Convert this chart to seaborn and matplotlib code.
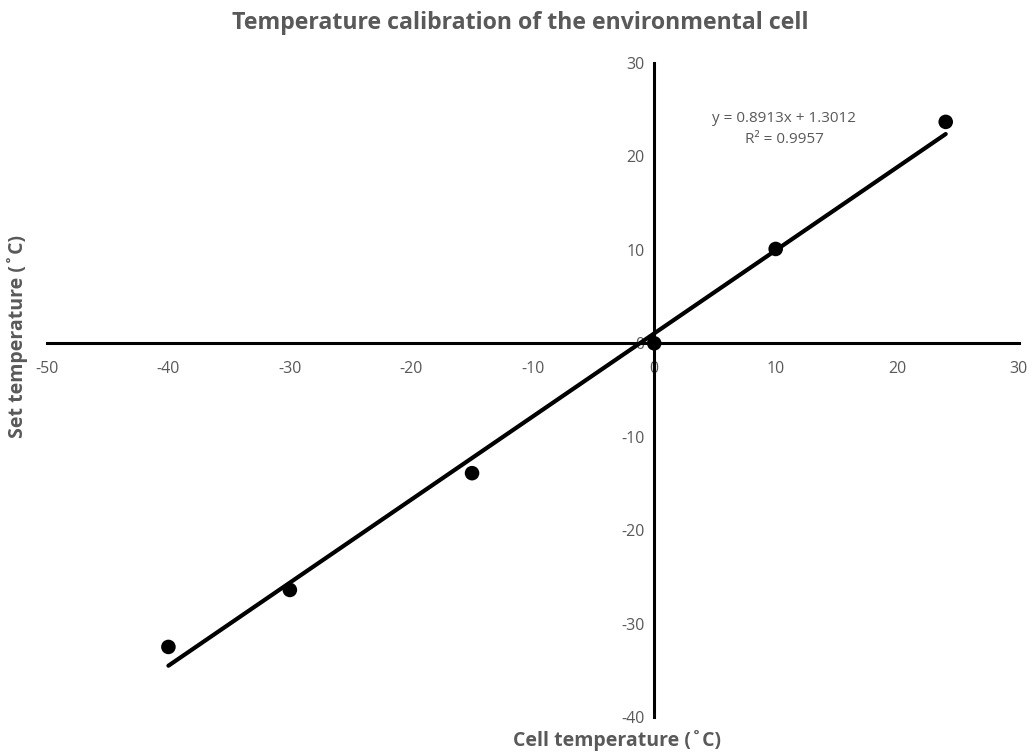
import numpy as np
import pandas as pd
import matplotlib
matplotlib.use("Agg")
import matplotlib.pyplot as plt
import seaborn as sns

# Data
cell_temp = [-40, -30, -15, 0, 10, 24]
set_temp = [-32.5, -26.4, -13.9, 0.0, 10.1, 23.7]
x_ticks = [-50, -40, -30, -20, -10, 0, 10, 20, 30]
y_ticks = [-40, -30, -20, -10, 0, 10, 20, 30]
title = "Temperature calibration of the environmental cell"
xlabel = "Cell temperature (˚C)"
ylabel = "Set temperature (˚C)"
eq_text = "y = 0.8913x + 1.3012\nR² = 0.9957"

sns.set_style("white")
plt.rcParams['font.family'] = ['Open Sans', 'DejaVu Sans']
plt.rcParams['axes.unicode_minus'] = False

gray = "#595959"
df = pd.DataFrame({"cell": cell_temp, "set": set_temp})

fig = plt.figure(figsize=(10.32, 7.53), dpi=100)
ax = fig.add_axes([0.0455, 0.0478, 0.987 - 0.0455, 0.9163 - 0.0478])

sns.regplot(data=df, x="cell", y="set", ax=ax, ci=None, truncate=True,
            scatter_kws=dict(color="black", s=110, edgecolor="none", alpha=1, zorder=4),
            line_kws=dict(color="black", lw=3.0, zorder=3))

ax.set_xlim(-50, 30)
ax.set_ylim(-40, 30)
ax.set_xticks(x_ticks)
ax.set_yticks(y_ticks)

for s in ["top", "right"]:
    ax.spines[s].set_visible(False)
ax.spines["left"].set_position(("data", 0))
ax.spines["bottom"].set_position(("data", 0))
for s in ["left", "bottom"]:
    ax.spines[s].set_color("black")
    ax.spines[s].set_linewidth(2.2)
    ax.spines[s].set_zorder(2)

ax.tick_params(axis="x", length=0, pad=13, labelsize=11.5, labelcolor=gray)
ax.tick_params(axis="y", length=0, pad=7, labelsize=11.5, labelcolor=gray)
ax.set_xlabel("")
ax.set_ylabel("")

fig.text(0.504, 0.970, title, ha="center", va="center", fontsize=16.7,
         fontweight="bold", color=gray)
fig.text(0.598, 0.017, xlabel, ha="center", va="center", fontsize=14,
         fontweight="bold", color=gray)
fig.text(0.017, 0.553, ylabel, ha="center", va="center", fontsize=14,
         fontweight="bold", color=gray, rotation=90)
ax.text(10.7, 22.9, eq_text, ha="center", va="center", fontsize=11,
        color=gray, linespacing=1.55)

fig.savefig("out.png", dpi=100)
